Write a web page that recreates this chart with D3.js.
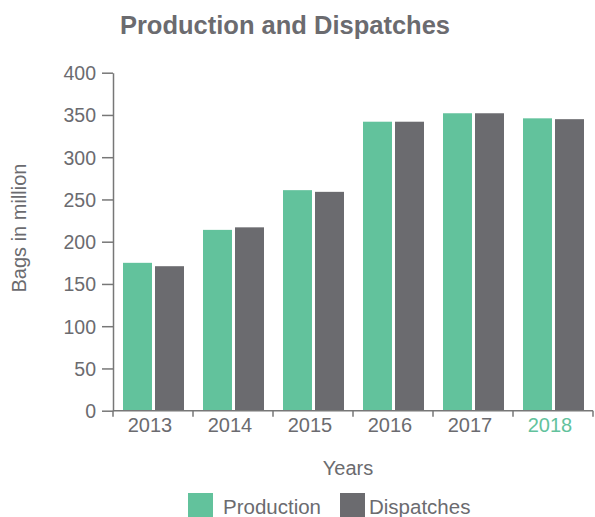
<!DOCTYPE html>
<html><head><meta charset="utf-8">
<script src="https://cdn.jsdelivr.net/npm/d3@7"></script>
<style>
body{margin:0;background:#fff;}
svg{display:block;font-family:"Liberation Sans",Arial,Helvetica,sans-serif;}
</style></head>
<body><svg id="c" width="595" height="517"></svg>
<script>
const years = ["2013","2014","2015","2016","2017","2018"];
const seriesNames = ["Production","Dispatches"];
const production = [175, 214, 261, 342, 352, 346];
const dispatches = [171, 217, 259, 342, 352, 345];
const yTicks = [0,50,100,150,200,250,300,350,400];
const colors = ["#62c29c","#6b6b6f"];
const textColor = "#6b6b6f";

const svg = d3.select("#c");
const x = d3.scaleBand().domain(years).range([113,593]).padding(0);
const xs = d3.scaleBand().domain(seriesNames).range([10,71]).paddingInner(0.094).paddingOuter(0);
const y = d3.scaleLinear().domain([0,400]).range([410.7,72.7]);

const data = years.map((yr,i)=>({year:yr, vals:[production[i], dispatches[i]]}));

// bars
const g = svg.append("g");
g.selectAll("g.grp").data(data).join("g").attr("class","grp")
 .attr("transform",d=>`translate(${x(d.year)},0)`)
 .selectAll("rect").data(d=>d.vals.map((v,j)=>({k:seriesNames[j],v,j})))
 .join("rect")
 .attr("x",d=>xs(d.k)).attr("width",xs.bandwidth())
 .attr("y",d=>y(d.v)).attr("height",d=>y(0)-y(d.v))
 .attr("fill",d=>colors[d.j]);

// y axis
const ya = svg.append("g").attr("transform","translate(113,0)")
 .call(d3.axisLeft(y).tickValues(yTicks).tickSize(11).tickSizeOuter(0).tickPadding(6));
ya.select(".domain").attr("stroke","#777").attr("stroke-width",1.5);
ya.selectAll(".tick line").attr("stroke","#777").attr("stroke-width",1.5);
ya.selectAll(".tick text").attr("fill",textColor).style("font-size","19.5px").attr("dy","0.35em");

// x axis
const xa = svg.append("g").attr("transform",`translate(0,${y(0)})`);
xa.append("line").attr("x1",113).attr("x2",593).attr("stroke","#777").attr("stroke-width",1.5);
const bounds = years.map(d=>x(d)).concat([x(years[years.length-1])+x.bandwidth()]);
xa.selectAll("line.t").data(bounds).join("line").attr("class","t")
 .attr("x1",d=>d).attr("x2",d=>d).attr("y1",0).attr("y2",6)
 .attr("stroke","#777").attr("stroke-width",1.5);
xa.selectAll("text").data(years).join("text")
 .attr("x",d=>x(d)+x.bandwidth()/2 - 3).attr("y",21)
 .attr("text-anchor","middle")
 .attr("fill",(d,i)=>i===years.length-1?colors[0]:textColor)
 .style("font-size","20px").text(d=>d);

// title
svg.append("text").attr("x",285).attr("y",34).attr("text-anchor","middle")
 .attr("fill",textColor).style("font-size","25.5px").style("font-weight","bold")
 .text("Production and Dispatches");

// axis titles
svg.append("text").attr("x",348).attr("y",475).attr("text-anchor","middle")
 .attr("fill",textColor).style("font-size","20px").text("Years");
svg.append("text").attr("transform","translate(25.5,228) rotate(-90)").attr("text-anchor","middle")
 .attr("fill",textColor).style("font-size","20px").text("Bags in million");

// legend
const leg = svg.append("g");
const legX = [188,340];
seriesNames.forEach((s,i)=>{
  leg.append("rect").attr("x",legX[i]).attr("y",493).attr("width",25).attr("height",24).attr("fill",colors[i]);
  leg.append("text").attr("x",legX[i]+(i===0?35:29)).attr("y",514).attr("fill",textColor)
   .style("font-size","20.5px").text(s);
});
</script></body></html>
